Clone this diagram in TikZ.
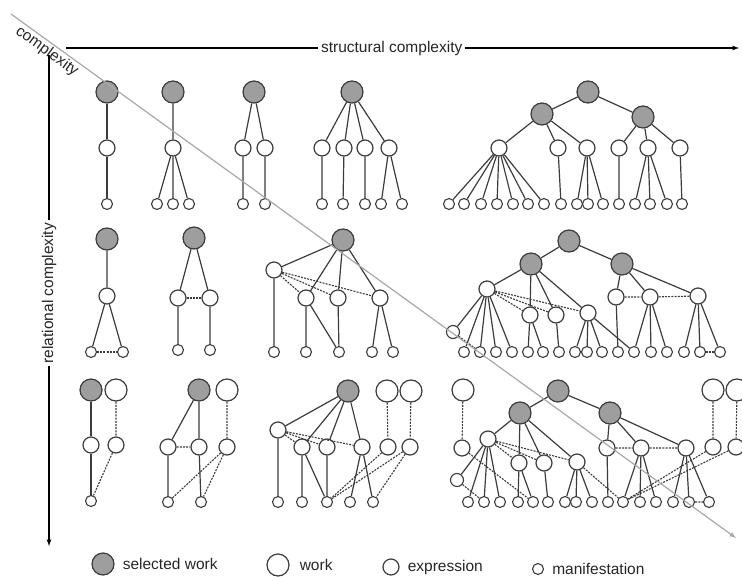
\documentclass[tikz,border=0pt]{standalone}
\usepackage{fontspec}
\setmainfont{Liberation Sans}
\usepackage{tikz}
\usetikzlibrary{arrows,positioning}
\definecolor{selgray}{RGB}{158,158,158}
\definecolor{edgegray}{RGB}{60,60,60}
\definecolor{diaggray}{RGB}{168,168,168}
\tikzstyle{selwork} = [circle, draw=edgegray, line width=1.2pt, fill=selgray, minimum size=22pt, inner sep=0pt]
\tikzstyle{work} = [circle, draw=edgegray, line width=1.2pt, fill=white, minimum size=22pt, inner sep=0pt]
\tikzstyle{expr} = [circle, draw=edgegray, line width=1.2pt, fill=white, minimum size=16pt, inner sep=0pt]
\tikzstyle{manif} = [circle, draw=edgegray, line width=1.1pt, fill=white, minimum size=11pt, inner sep=0pt]
\tikzstyle{tedge} = [draw=edgegray, line width=1.2pt]
\tikzstyle{dedge} = [draw=edgegray, line width=1.1pt, dash pattern=on 2pt off 1.2pt]
\tikzstyle{axis} = [draw, line width=1.2pt, >=latex, ->]
\tikzstyle{diag} = [draw=diaggray, line width=1.2pt, >=latex, ->]
\tikzstyle{lbl} = [font=\fontsize{15.5}{18}\selectfont, inner sep=3pt, text=black!85]

\begin{document}
\begin{tikzpicture}[x=1pt, y=-1pt]
\useasboundingbox (0,0) rectangle (742,581);

% axes =============================
\coordinate (hs) at (66,48);
\coordinate (he) at (739,48);
\coordinate (vs) at (49,55);
\coordinate (ve) at (49,546);
\coordinate (ds) at (11,14);
\coordinate (de) at (736,538);
\path[axis] (hs) -- node[lbl, fill=white, pos=0.484] (hlab) {structural complexity} (he);
\path[axis] (vs) -- node[lbl, fill=white, rotate=90, pos=0.485] (vlab) {relational complexity} (ve);

% row 1 =============================

% one expression
\node[selwork] (s11) at (107,92) {};
\node[expr] (e11) at (107,148) {};
\node[manif] (m11) at (107,204) {};

% one expression, three manifestations
\node[selwork] (s12) at (173,92) {};
\node[expr] (e12) at (173,148) {};
\node[manif] (m12a) at (157,204) {};
\node[manif] (m12b) at (173,204) {};
\node[manif] (m12c) at (189,204) {};

% two expressions
\node[selwork] (s13) at (254,92) {};
\node[expr] (e13a) at (243,148) {};
\node[expr] (e13b) at (265,148) {};
\node[manif] (m13a) at (243,204) {};
\node[manif] (m13b) at (265,204) {};

% four expressions
\node[selwork] (s14) at (352,92) {};
\node[expr] (e14a) at (322,148) {};
\node[expr] (e14b) at (344,148) {};
\node[expr] (e14c) at (365,148) {};
\node[expr] (e14d) at (389,148) {};
\node[manif] (m14a) at (322,204) {};
\node[manif] (m14b) at (343,204) {};
\node[manif] (m14c) at (365,204) {};
\node[manif] (m14d) at (381,204) {};
\node[manif] (m14e) at (402,204) {};

% work with parts
\node[selwork] (s15) at (588,92) {};
\node[selwork] (s15a) at (542,114) {};
\node[selwork] (s15b) at (643,117) {};
\node[expr] (e15a) at (499,148) {};
\node[expr] (e15b) at (558,148) {};
\node[expr] (e15c) at (587,148) {};
\node[expr] (e15d) at (619,148) {};
\node[expr] (e15e) at (648,148) {};
\node[expr] (e15f) at (680,148) {};
\node[manif] (m15a) at (449,204) {};
\node[manif] (m15b) at (464,204) {};
\node[manif] (m15c) at (481,204) {};
\node[manif] (m15d) at (497,204) {};
\node[manif] (m15e) at (513,204) {};
\node[manif] (m15f) at (528,204) {};
\node[manif] (m15g) at (544,204) {};
\node[manif] (m15h) at (561,204) {};
\node[manif] (m15i) at (577,204) {};
\node[manif] (m15j) at (588,204) {};
\node[manif] (m15k) at (603,204) {};
\node[manif] (m15l) at (619,204) {};
\node[manif] (m15m) at (635,204) {};
\node[manif] (m15n) at (650,204) {};
\node[manif] (m15o) at (667,204) {};
\node[manif] (m15p) at (682,204) {};

% row 2 =============================

\node[selwork] (s21) at (107,239) {};
\node[expr] (e21) at (107,296) {};
\node[manif] (m21a) at (91,352) {};
\node[manif] (m21b) at (123,352) {};

\node[selwork] (s22) at (194,238) {};
\node[expr] (e22a) at (178,298) {};
\node[expr] (e22b) at (210,298) {};
\node[manif] (m22a) at (178,350) {};
\node[manif] (m22b) at (210,350) {};

\node[selwork] (s23) at (343,240) {};
\node[expr] (e23a) at (274,270) {};
\node[expr] (e23b) at (306,298) {};
\node[expr] (e23c) at (338,298) {};
\node[expr] (e23d) at (380,298) {};
\node[manif] (m23a) at (274,352) {};
\node[manif] (m23b) at (306,352) {};
\node[manif] (m23c) at (339,352) {};
\node[manif] (m23d) at (372,352) {};
\node[manif] (m23e) at (393,352) {};

\node[selwork] (s24) at (569,241) {};
\node[selwork] (s24a) at (531,264) {};
\node[selwork] (s24b) at (622,264) {};
\node[expr] (e24a) at (487,289) {};
\node[expr] (e24b) at (530,315) {};
\node[expr] (e24c) at (556,315) {};
\node[expr] (e24d) at (588,313) {};
\node[expr] (e24e) at (616,297) {};
\node[expr] (e24f) at (650,297) {};
\node[expr] (e24g) at (698,296) {};
\node[manif, minimum size=13pt] (x24) at (453,332) {};
\node[manif] (m24a) at (464,352) {};
\node[manif] (m24b) at (480,352) {};
\node[manif] (m24c) at (496,352) {};
\node[manif] (m24d) at (512,352) {};
\node[manif] (m24e) at (528,352) {};
\node[manif] (m24f) at (543,352) {};
\node[manif] (m24g) at (559,352) {};
\node[manif] (m24h) at (575,352) {};
\node[manif] (m24i) at (587,352) {};
\node[manif] (m24j) at (602,352) {};
\node[manif] (m24k) at (618,352) {};
\node[manif] (m24l) at (634,352) {};
\node[manif] (m24m) at (651,352) {};
\node[manif] (m24n) at (667,352) {};
\node[manif] (m24o) at (684,352) {};
\node[manif] (m24p) at (700,352) {};
\node[manif] (m24q) at (720,352) {};

% row 3 =============================

\node[selwork] (s31) at (91,390) {};
\node[work] (w31) at (116,390) {};
\node[expr] (e31a) at (91,445) {};
\node[expr] (e31b) at (116,445) {};
\node[manif] (m31) at (91,501) {};

\node[selwork] (s32) at (199,390) {};
\node[work] (w32) at (227,390) {};
\node[expr] (e32a) at (168,447) {};
\node[expr] (e32b) at (199,447) {};
\node[expr] (e32c) at (227,447) {};
\node[manif] (m32a) at (168,502) {};
\node[manif] (m32b) at (201,502) {};

\node[selwork] (s33) at (348,391) {};
\node[work] (w33a) at (387,391) {};
\node[work] (w33b) at (411,391) {};
\node[expr] (e33a) at (278,430) {};
\node[expr] (e33b) at (302,447) {};
\node[expr] (e33c) at (327,447) {};
\node[expr] (e33d) at (362,447) {};
\node[expr] (e33e) at (388,447) {};
\node[expr] (e33f) at (410,447) {};
\node[manif] (m33a) at (278,502) {};
\node[manif] (m33b) at (302,502) {};
\node[manif] (m33c) at (327,502) {};
\node[manif] (m33d) at (350,502) {};
\node[manif] (m33e) at (373,502) {};

\node[work] (w34) at (463,390) {};
\node[selwork] (s34) at (558,391) {};
\node[selwork] (s34a) at (520,413) {};
\node[selwork] (s34b) at (610,413) {};
\node[work] (w34b) at (713,390) {};
\node[work] (w34c) at (737,390) {};
\node[expr] (e34w) at (462,448) {};
\node[expr] (e34a) at (488,439) {};
\node[expr] (e34b) at (519,463) {};
\node[expr] (e34c) at (544,463) {};
\node[expr] (e34d) at (577,462) {};
\node[expr] (e34e) at (607,448) {};
\node[expr] (e34f) at (641,448) {};
\node[expr] (e34g) at (686,448) {};
\node[expr] (e34x) at (713,447) {};
\node[expr] (e34y) at (736,447) {};
\node[manif, minimum size=13pt] (x34) at (457,480) {};
\node[manif] (m34a) at (468,502) {};
\node[manif] (m34b) at (484,502) {};
\node[manif] (m34c) at (500,502) {};
\node[manif] (m34d) at (518,502) {};
\node[manif] (m34e) at (533,502) {};
\node[manif] (m34f) at (548,502) {};
\node[manif] (m34g) at (565,502) {};
\node[manif] (m34h) at (576,502) {};
\node[manif] (m34i) at (592,502) {};
\node[manif] (m34j) at (608,502) {};
\node[manif] (m34k) at (623,502) {};
\node[manif] (m34l) at (640,502) {};
\node[manif] (m34m) at (656,502) {};
\node[manif] (m34n) at (673,502) {};
\node[manif] (m34o) at (689,502) {};
\node[manif] (m34p) at (709,502) {};

% legend
\node[selwork] (lsel) at (103,564) {};
\node[lbl, right=5pt of lsel] (lselt) {selected work};
\node[work] (lwork) at (278,565) {};
\node[lbl, right=7pt of lwork] (lworkt) {work};
\node[expr] (lexpr) at (391,567) {};
\node[lbl, right=5pt of lexpr] (lexprt) {expression};
\node[manif] (lmanif) at (538,569) {};
\node[lbl, right=5pt of lmanif] (lmanift) {manifestation};

%edges row 1
\path[tedge] (s11) -- (e11) (e11) -- (m11);
\path[tedge] (s12) -- (e12) (e12) -- (m12a) (e12) -- (m12b) (e12) -- (m12c);
\path[tedge] (s13) -- (e13a) (s13) -- (e13b) (e13a) -- (m13a) (e13b) -- (m13b);
\path[tedge] (s14) -- (e14a) (s14) -- (e14b) (s14) -- (e14c) (s14) -- (e14d);
\path[tedge] (e14a) -- (m14a) (e14b) -- (m14b) (e14c) -- (m14c) (e14d) -- (m14d) (e14d) -- (m14e);
\path[tedge] (s15) -- (s15a) (s15) -- (s15b);
\path[tedge] (s15a) -- (e15a) (s15a) -- (e15b) (s15a) -- (e15c);
\path[tedge] (s15b) -- (e15d) (s15b) -- (e15e) (s15b) -- (e15f);
\path[tedge] (e15a) -- (m15a) (e15a) -- (m15b) (e15a) -- (m15c) (e15a) -- (m15d) (e15a) -- (m15e) (e15a) -- (m15f) (e15a) -- (m15g);
\path[tedge] (e15b) -- (m15h) (e15c) -- (m15i) (e15c) -- (m15j) (e15c) -- (m15k);
\path[tedge] (e15d) -- (m15l) (e15e) -- (m15m) (e15e) -- (m15n) (e15e) -- (m15o) (e15f) -- (m15p);

%edges row 2
\path[tedge] (s21) -- (e21) (e21) -- (m21a) (e21) -- (m21b);
\path[dedge] (m21a) -- (m21b);
\path[tedge] (s22) -- (e22a) (s22) -- (e22b) (e22a) -- (m22a) (e22b) -- (m22b);
\path[dedge] (e22a) -- (e22b);
\path[tedge] (s23) -- (e23a) (s23) -- (e23b) (s23) -- (e23c) (s23) -- (e23d);
\path[dedge] (e23a) -- (e23b) (e23a) -- (e23c) (e23a) -- (e23d);
\path[tedge] (e23a) -- (m23a) (e23b) -- (m23b) (e23b) -- (m23c) (e23c) -- (m23c) (e23d) -- (m23d) (e23d) -- (m23e);
\path[tedge] (s24) -- (s24a) (s24) -- (s24b);
\path[tedge] (s24a) -- (e24a) (s24a) -- (e24b) (s24a) -- (e24c) (s24a) -- (e24d);
\path[tedge] (s24b) -- (e24e) (s24b) -- (e24f) (s24b) -- (e24g);
\path[dedge] (e24a) -- (e24b) (e24a) -- (e24c) (e24a) -- (e24d) (e24e) -- (e24f) (e24f) -- (e24g);
\path[tedge] (e24a) -- (x24) (e24a) -- (m24a) (e24a) -- (m24b) (e24a) -- (m24c) (e24a) -- (m24d);
\path[dedge] (x24) -- (m24b);
\path[tedge] (e24b) -- (m24e) (e24b) -- (m24f) (e24c) -- (m24g);
\path[tedge] (e24d) -- (m24h) (e24d) -- (m24i) (e24d) -- (m24j) (e24d) -- (m24l);
\path[tedge] (e24e) -- (m24k) (e24f) -- (m24l) (e24f) -- (m24m) (e24f) -- (m24n);
\path[tedge] (e24g) -- (m24o) (e24g) -- (m24p) (e24g) -- (m24q);
\path[dedge] (m24p) -- (m24q);

%edges row 3
\path[tedge] (s31) -- (e31a) (e31a) -- (m31);
\path[dedge] (w31) -- (e31b) (e31b) -- (m31);
\path[tedge] (s32) -- (e32a) (s32) -- (e32b) (e32a) -- (m32a) (e32b) -- (m32b);
\path[dedge] (w32) -- (e32c) (e32a) -- (e32b) (e32c) -- (m32a) (e32c) -- (m32b);
\path[tedge] (s33) -- (e33a) (s33) -- (e33b) (s33) -- (e33c) (s33) -- (e33d);
\path[dedge] (e33a) -- (e33b) (e33a) -- (e33c) (e33a) -- (e33d);
\path[dedge] (w33a) -- (e33e) (w33b) -- (e33f);
\path[tedge] (e33a) -- (m33a) (e33b) -- (m33b) (e33b) -- (m33c) (e33c) -- (m33c) (e33d) -- (m33d) (e33d) -- (m33e);
\path[dedge] (e33e) -- (m33c) (e33f) -- (m33c) (e33f) -- (m33e);
\path[tedge] (s34) -- (s34a) (s34) -- (s34b);
\path[tedge] (s34a) -- (e34a) (s34a) -- (e34b) (s34a) -- (e34c) (s34a) -- (e34d);
\path[tedge] (s34b) -- (e34e) (s34b) -- (e34f) (s34b) -- (e34g);
\path[dedge] (w34) -- (e34w) (w34b) -- (e34x) (w34c) -- (e34y);
\path[dedge] (e34a) -- (e34b) (e34a) -- (e34c) (e34a) -- (e34d) (e34e) -- (e34f) (e34f) -- (e34g);
\path[tedge] (e34a) -- (x34) (e34a) -- (m34a) (e34a) -- (m34b) (e34a) -- (m34c);
\path[dedge] (x34) -- (m34b) (e34w) -- (m34e);
\path[tedge] (e34b) -- (m34d) (e34b) -- (m34e) (e34c) -- (m34f);
\path[tedge] (e34d) -- (m34g) (e34d) -- (m34h) (e34d) -- (m34i);
\path[dedge] (e34d) -- (m34k);
\path[tedge] (e34e) -- (m34j) (e34f) -- (m34k) (e34f) -- (m34l) (e34f) -- (m34m);
\path[tedge] (e34g) -- (m34n) (e34g) -- (m34o) (e34g) -- (m34p);
\path[dedge] (m34o) -- (m34p) (e34x) -- (m34k) (e34y) -- (m34k);

% complexity diagonal
\path[diag] (ds) -- node[lbl, sloped, below, pos=0.057, inner sep=1.5pt] (dlab) {complexity} (de);

\end{tikzpicture}
\end{document}
